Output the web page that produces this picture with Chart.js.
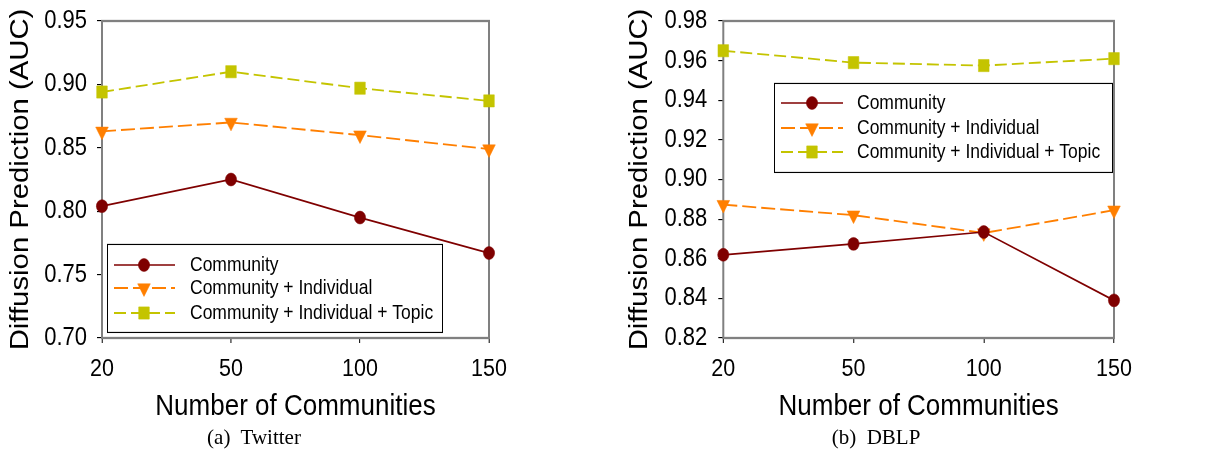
<!DOCTYPE html>
<html><head><meta charset="utf-8">
<script src="https://cdn.jsdelivr.net/npm/chart.js@4/dist/chart.umd.min.js"></script>
<style>
html,body{margin:0;padding:0;background:#fff;width:1229px;height:453px;overflow:hidden;}
.wrap{position:absolute;top:0;height:453px;overflow:hidden;}
#c1{width:707px!important;height:453px!important;display:block;}
#c2{width:706px!important;height:453px!important;display:block;}
.cap{position:absolute;top:423px;font-family:"Liberation Serif","Times New Roman",serif;font-size:21px;line-height:28px;color:#000;white-space:pre;transform:translateX(-50%);}
</style></head><body>
<div class="wrap" style="left:0;width:615px"><canvas id="c1" width="615" height="394"></canvas></div>
<div class="wrap" style="left:615px;width:614px"><canvas id="c2" width="614" height="394"></canvas></div>
<div class="cap" id="cap1" style="left:254px"></div>
<div class="cap" id="cap2" style="left:876px"></div>
<script>
// ---- data ----
const categories = ['20', '50', '100', '150'];
const seriesNames = ['Community', 'Community + Individual', 'Community + Individual + Topic'];
const twitterCommunity  = [0.804, 0.825, 0.795, 0.767];
const twitterIndividual = [0.863, 0.870, 0.860, 0.849];
const twitterTopic      = [0.894, 0.910, 0.897, 0.887];
const dblpCommunity  = [0.862, 0.8675, 0.8735, 0.839];
const dblpIndividual = [0.8873, 0.882, 0.873, 0.8845];
const dblpTopic      = [0.965, 0.959, 0.9575, 0.961];
const twitterYRange = [0.70, 0.95, 0.05];
const dblpYRange = [0.82, 0.98, 0.02];
const xTitle = 'Number of Communities';
const yTitle = 'Diffusion Prediction (AUC)';
const captions = ['(a)  Twitter', '(b)  DBLP'];

document.getElementById('cap1').textContent = captions[0];
document.getElementById('cap2').textContent = captions[1];

// the reference is vertically stretched: draw in logical space and stretch y by S
const S = 1.15;
const LH = 394; // logical canvas height (453 / S)

const FONT = '"Liberation Sans", Arial, Helvetica, sans-serif';
Chart.defaults.font.family = FONT;
Chart.defaults.color = '#000';

const styles = [
  {color:'#7f0000', dash:[], point:'circle', radius:5.6, rot:0, width:1.5},
  {color:'#ff7f00', dash:[14,5], point:'triangle', radius:7.3, rot:180, width:1.6},
  {color:'#c4c400', dash:[12,5], point:'rect', radius:7.5, rot:0, width:1.6}
];

function makeDatasets(arrs){
  return arrs.map((d,i)=>({
    label: seriesNames[i], data: d,
    borderColor: styles[i].color, backgroundColor: styles[i].color,
    pointBackgroundColor: styles[i].color, pointBorderColor: styles[i].color,
    borderWidth: styles[i].width, borderDash: styles[i].dash,
    pointStyle: styles[i].point, pointRadius: styles[i].radius, pointRotation: styles[i].rot,
    pointBorderWidth: 0.5, tension: 0, clip: false
  }));
}

const stretch = {
  id: 'stretch',
  beforeDraw(chart){ const c = chart.ctx; c.save(); c.setTransform(1, 0, 0, S, 0, 0); },
  afterDraw(chart){ chart.ctx.restore(); }
};

const frame = {
  id: 'frame',
  beforeDatasetsDraw(chart){
    const {ctx, chartArea:a} = chart;
    ctx.save();
    ctx.strokeStyle = '#808080'; ctx.lineWidth = 2; ctx.setLineDash([]);
    ctx.strokeRect(a.left, a.top, a.right - a.left, a.bottom - a.top);
    ctx.restore();
  }
};

const boxLegend = {
  id: 'boxLegend',
  afterDatasetsDraw(chart, args, o){
    const ctx = chart.ctx;
    const bx = o.x, by = o.y / S, bw = o.w, bh = o.h / S;
    ctx.save();
    ctx.fillStyle = '#fff';
    ctx.fillRect(bx, by, bw, bh);
    ctx.lineWidth = 1; ctx.strokeStyle = '#000'; ctx.setLineDash([]);
    ctx.strokeRect(bx + 0.5, by + 0.4, bw, bh);
    ctx.font = '17.5px ' + FONT;
    ctx.textBaseline = 'middle';
    chart.data.datasets.forEach((ds, i) => {
      const y = (o.y + o.rows[i]) / S;
      ctx.strokeStyle = ds.borderColor; ctx.lineWidth = ds.borderWidth;
      ctx.setLineDash(ds.borderDash || []);
      ctx.beginPath(); ctx.moveTo(bx + o.l0, y); ctx.lineTo(bx + o.l1, y); ctx.stroke();
      ctx.setLineDash([]);
      ctx.fillStyle = ds.pointBackgroundColor; ctx.strokeStyle = ds.pointBorderColor; ctx.lineWidth = 0.5;
      Chart.helpers.drawPoint(ctx, {pointStyle: ds.pointStyle, radius: ds.pointRadius, rotation: ds.pointRotation, borderWidth: 0.5}, bx + o.mx, y);
      ctx.fillStyle = '#000';
      ctx.fillText(ds.label, bx + o.tx, y + 0.5);
    });
    ctx.restore();
  }
};

function makeChart(id, arrs, yr, plotLeft, titleX, plotRight, width, yPad, legend){
  const top = 21 / S, bottom = 338 / S;
  const xTitleFont = 26, yTitleFont = 25.5;
  const axisBottom = 407 / S + xTitleFont * 1.2 / 2;
  const padLeft = titleX - yTitleFont * 1.2 / 2;
  return new Chart(document.getElementById(id), {
    type: 'line',
    data: {labels: categories, datasets: makeDatasets(arrs)},
    plugins: [stretch, frame, boxLegend],
    options: {
      responsive: false, animation: false, devicePixelRatio: S,
      layout: {padding: {top: top, left: padLeft, right: width - plotRight, bottom: LH - axisBottom}},
      plugins: {legend: {display: false}, tooltip: {enabled: false}, boxLegend: legend},
      scales: {
        x: {
          type: 'category', offset: false,
          grid: {drawOnChartArea: false, tickLength: 5 / S, tickColor: '#000', tickWidth: 1},
          border: {display: false},
          ticks: {font: {size: 21.5}, padding: 10, color: '#000', maxRotation: 0, autoSkip: false},
          title: {display: true, text: xTitle, font: {size: xTitleFont}, padding: 0, color: '#000'},
          afterFit(s){ s.height = axisBottom - bottom; s.paddingLeft = 0; s.paddingRight = 0; }
        },
        y: {
          min: yr[0], max: yr[1],
          grid: {drawOnChartArea: false, tickLength: 5, tickColor: '#000', tickWidth: 1},
          border: {display: false},
          ticks: {stepSize: yr[2], font: {size: 22}, padding: yPad, color: '#000',
                  callback: v => v.toFixed(2)},
          title: {display: true, text: yTitle, font: {size: yTitleFont}, padding: 0, color: '#000'},
          afterFit(s){ s.width = plotLeft - padLeft; s.paddingTop = 0; s.paddingBottom = 0; }
        }
      }
    }
  });
}

makeChart('c1', [twitterCommunity, twitterIndividual, twitterTopic], twitterYRange,
  102, 21, 489, 615, 10,
  {x: 107, y: 244, w: 335, h: 88, rows: [21, 44, 69], l0: 7, l1: 68, mx: 37, tx: 83});
makeChart('c2', [dblpCommunity, dblpIndividual, dblpTopic], dblpYRange,
  108.3, 25, 499, 614, 11,
  {x: 159, y: 83, w: 338, h: 89, rows: [20, 45, 69], l0: 7, l1: 69, mx: 38, tx: 83});
</script>
</body></html>
